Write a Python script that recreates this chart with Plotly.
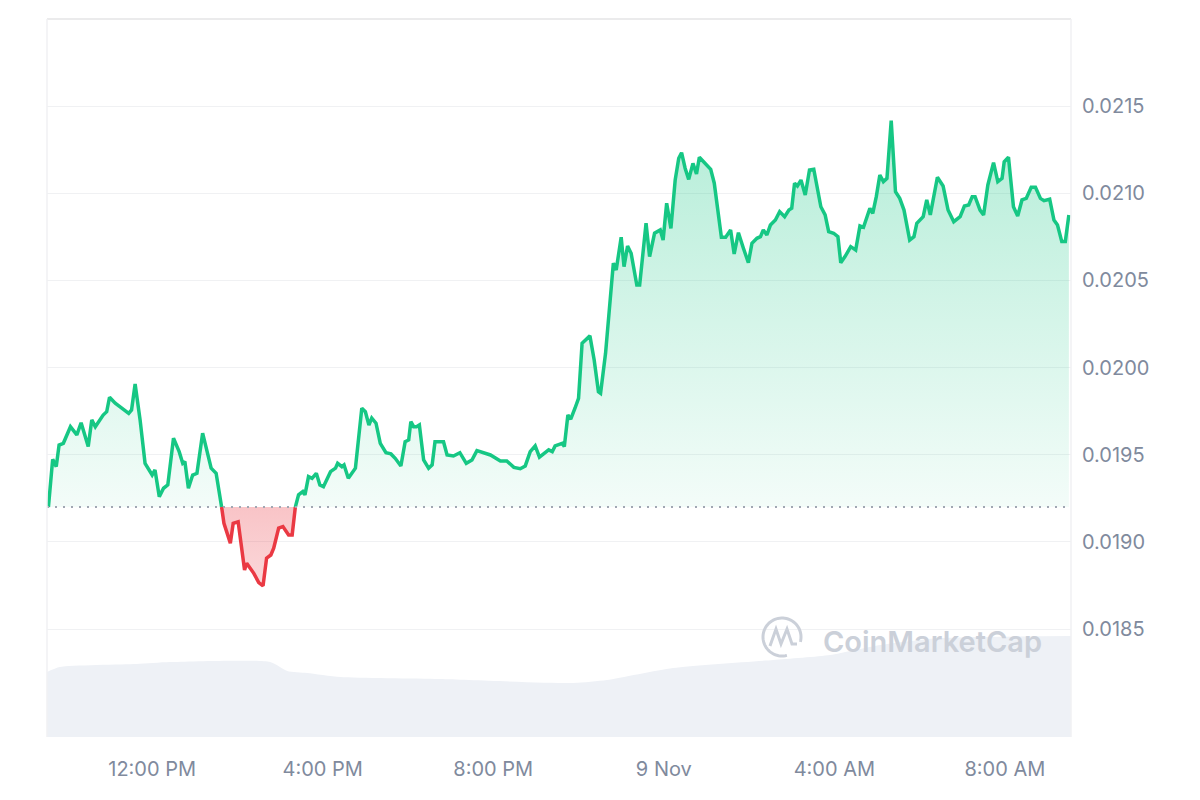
"""24h price chart with open-price baseline, CoinMarketCap style."""

import numpy as np
import pandas as pd
import plotly.graph_objects as go

# price series (USD)
times = [
    "2023-11-08 09:34", "2023-11-08 09:40", "2023-11-08 09:45", "2023-11-08 09:49", "2023-11-08 09:55",
    "2023-11-08 10:05", "2023-11-08 10:14", "2023-11-08 10:20", "2023-11-08 10:30", "2023-11-08 10:35",
    "2023-11-08 10:40", "2023-11-08 10:51", "2023-11-08 10:56", "2023-11-08 11:00", "2023-11-08 11:08",
    "2023-11-08 11:17", "2023-11-08 11:27", "2023-11-08 11:31", "2023-11-08 11:36", "2023-11-08 11:43",
    "2023-11-08 11:50", "2023-11-08 12:00", "2023-11-08 12:04", "2023-11-08 12:10", "2023-11-08 12:16",
    "2023-11-08 12:22", "2023-11-08 12:30", "2023-11-08 12:38", "2023-11-08 12:43", "2023-11-08 12:46",
    "2023-11-08 12:51", "2023-11-08 12:57", "2023-11-08 13:03", "2023-11-08 13:11", "2023-11-08 13:17",
    "2023-11-08 13:23", "2023-11-08 13:30", "2023-11-08 13:38", "2023-11-08 13:41", "2023-11-08 13:50",
    "2023-11-08 13:54", "2023-11-08 14:01", "2023-11-08 14:10", "2023-11-08 14:13", "2023-11-08 14:23",
    "2023-11-08 14:30", "2023-11-08 14:36", "2023-11-08 14:41", "2023-11-08 14:47", "2023-11-08 14:51",
    "2023-11-08 14:58", "2023-11-08 15:04", "2023-11-08 15:12", "2023-11-08 15:17", "2023-11-08 15:21",
    "2023-11-08 15:26", "2023-11-08 15:32", "2023-11-08 15:35", "2023-11-08 15:40", "2023-11-08 15:45",
    "2023-11-08 15:51", "2023-11-08 15:56", "2023-11-08 16:01", "2023-11-08 16:11", "2023-11-08 16:18",
    "2023-11-08 16:21", "2023-11-08 16:27", "2023-11-08 16:30", "2023-11-08 16:36", "2023-11-08 16:46",
    "2023-11-08 16:55", "2023-11-08 17:00", "2023-11-08 17:05", "2023-11-08 17:09", "2023-11-08 17:15",
    "2023-11-08 17:21", "2023-11-08 17:29", "2023-11-08 17:36", "2023-11-08 17:42", "2023-11-08 17:50",
    "2023-11-08 17:56", "2023-11-08 18:01", "2023-11-08 18:04", "2023-11-08 18:08", "2023-11-08 18:12",
    "2023-11-08 18:16", "2023-11-08 18:22", "2023-11-08 18:29", "2023-11-08 18:34", "2023-11-08 18:38",
    "2023-11-08 18:50", "2023-11-08 18:55", "2023-11-08 19:04", "2023-11-08 19:13", "2023-11-08 19:22",
    "2023-11-08 19:30", "2023-11-08 19:37", "2023-11-08 19:47", "2023-11-08 19:56", "2023-11-08 20:10",
    "2023-11-08 20:19", "2023-11-08 20:29", "2023-11-08 20:38", "2023-11-08 20:45", "2023-11-08 20:52",
    "2023-11-08 20:59", "2023-11-08 21:05", "2023-11-08 21:13", "2023-11-08 21:18", "2023-11-08 21:23",
    "2023-11-08 21:27", "2023-11-08 21:37", "2023-11-08 21:40", "2023-11-08 21:45", "2023-11-08 21:49",
    "2023-11-08 21:55", "2023-11-08 22:00", "2023-11-08 22:05", "2023-11-08 22:16", "2023-11-08 22:22",
    "2023-11-08 22:28", "2023-11-08 22:31", "2023-11-08 22:38", "2023-11-08 22:49", "2023-11-08 22:53",
    "2023-11-08 23:00", "2023-11-08 23:04", "2023-11-08 23:09", "2023-11-08 23:14", "2023-11-08 23:22",
    "2023-11-08 23:26", "2023-11-08 23:35", "2023-11-08 23:40", "2023-11-08 23:47", "2023-11-08 23:55",
    "2023-11-08 23:59", "2023-11-09 00:04", "2023-11-09 00:10", "2023-11-09 00:16", "2023-11-09 00:21",
    "2023-11-09 00:25", "2023-11-09 00:30", "2023-11-09 00:35", "2023-11-09 00:41", "2023-11-09 00:46",
    "2023-11-09 00:50", "2023-11-09 00:56", "2023-11-09 01:03", "2023-11-09 01:06", "2023-11-09 01:11",
    "2023-11-09 01:16", "2023-11-09 01:21", "2023-11-09 01:27", "2023-11-09 01:34", "2023-11-09 01:39",
    "2023-11-09 01:45", "2023-11-09 01:52", "2023-11-09 01:59", "2023-11-09 02:04", "2023-11-09 02:11",
    "2023-11-09 02:16", "2023-11-09 02:20", "2023-11-09 02:25", "2023-11-09 02:30", "2023-11-09 02:37",
    "2023-11-09 02:43", "2023-11-09 02:50", "2023-11-09 02:56", "2023-11-09 03:00", "2023-11-09 03:04",
    "2023-11-09 03:08", "2023-11-09 03:13", "2023-11-09 03:19", "2023-11-09 03:25", "2023-11-09 03:31",
    "2023-11-09 03:36", "2023-11-09 03:41", "2023-11-09 03:47", "2023-11-09 03:52", "2023-11-09 03:59",
    "2023-11-09 04:05", "2023-11-09 04:09", "2023-11-09 04:15", "2023-11-09 04:23", "2023-11-09 04:30",
    "2023-11-09 04:36", "2023-11-09 04:41", "2023-11-09 04:50", "2023-11-09 04:54", "2023-11-09 04:59",
    "2023-11-09 05:04", "2023-11-09 05:09", "2023-11-09 05:14", "2023-11-09 05:20", "2023-11-09 05:26",
    "2023-11-09 05:32", "2023-11-09 05:38", "2023-11-09 05:46", "2023-11-09 05:52", "2023-11-09 05:56",
    "2023-11-09 06:05", "2023-11-09 06:10", "2023-11-09 06:15", "2023-11-09 06:25", "2023-11-09 06:33",
    "2023-11-09 06:40", "2023-11-09 06:48", "2023-11-09 06:57", "2023-11-09 07:03", "2023-11-09 07:09",
    "2023-11-09 07:14", "2023-11-09 07:18", "2023-11-09 07:25", "2023-11-09 07:30", "2023-11-09 07:36",
    "2023-11-09 07:44", "2023-11-09 07:50", "2023-11-09 07:56", "2023-11-09 07:59", "2023-11-09 08:05",
    "2023-11-09 08:12", "2023-11-09 08:18", "2023-11-09 08:24", "2023-11-09 08:30", "2023-11-09 08:37",
    "2023-11-09 08:43", "2023-11-09 08:50", "2023-11-09 08:55", "2023-11-09 09:03", "2023-11-09 09:09",
    "2023-11-09 09:14", "2023-11-09 09:20", "2023-11-09 09:25", "2023-11-09 09:30",
]
prices = [
    0.019200, 0.019474, 0.019432, 0.019556, 0.019566,
    0.019661, 0.019614, 0.019684, 0.019547, 0.019700,
    0.019661, 0.019728, 0.019747, 0.019830, 0.019796,
    0.019767, 0.019738, 0.019757, 0.019906, 0.019700,
    0.019451, 0.019384, 0.019413, 0.019260, 0.019308,
    0.019327, 0.019595, 0.019518, 0.019451, 0.019461,
    0.019308, 0.019384, 0.019394, 0.019624, 0.019528,
    0.019423, 0.019394, 0.019193, 0.019107, 0.018993,
    0.019107, 0.019116, 0.018839, 0.018878, 0.018820,
    0.018767, 0.018748, 0.018907, 0.018925, 0.018964,
    0.019079, 0.019088, 0.019040, 0.019040, 0.019193,
    0.019270, 0.019289, 0.019270, 0.019375, 0.019365,
    0.019394, 0.019327, 0.019317, 0.019403, 0.019423,
    0.019451, 0.019432, 0.019442, 0.019365, 0.019423,
    0.019767, 0.019747, 0.019671, 0.019710, 0.019681,
    0.019566, 0.019512, 0.019505, 0.019480, 0.019436,
    0.019575, 0.019585, 0.019690, 0.019661, 0.019661,
    0.019671, 0.019470, 0.019423, 0.019442, 0.019575,
    0.019575, 0.019499, 0.019493, 0.019512, 0.019451,
    0.019470, 0.019524, 0.019512, 0.019499, 0.019465,
    0.019465, 0.019428, 0.019420, 0.019436, 0.019518,
    0.019551, 0.019486, 0.019512, 0.019528, 0.019518,
    0.019551, 0.019566, 0.019547, 0.019728, 0.019704,
    0.019767, 0.019824, 0.020140, 0.020182, 0.020044,
    0.019862, 0.019853, 0.020082, 0.020599, 0.020560,
    0.020748, 0.020579, 0.020698, 0.020656, 0.020474,
    0.020474, 0.020828, 0.020637, 0.020771, 0.020790,
    0.020732, 0.020943, 0.020799, 0.021076, 0.021201,
    0.021233, 0.021144, 0.021080, 0.021172, 0.021111,
    0.021207, 0.021181, 0.021144, 0.021138, 0.021058,
    0.020904, 0.020748, 0.020748, 0.020790, 0.020652,
    0.020774, 0.020685, 0.020602, 0.020713, 0.020742,
    0.020751, 0.020790, 0.020761, 0.020818, 0.020847,
    0.020895, 0.020866, 0.020904, 0.020914, 0.021058,
    0.021042, 0.021076, 0.020990, 0.021134, 0.021138,
    0.021038, 0.020923, 0.020876, 0.020780, 0.020771,
    0.020751, 0.020602, 0.020637, 0.020694, 0.020675,
    0.020813, 0.020805, 0.020914, 0.020885, 0.020981,
    0.021105, 0.021067, 0.021086, 0.021417, 0.021009,
    0.020971, 0.020904, 0.020732, 0.020751, 0.020828,
    0.020866, 0.020962, 0.020876, 0.021092, 0.021042,
    0.020904, 0.020837, 0.020866, 0.020927, 0.020933,
    0.020981, 0.020981, 0.020904, 0.020876, 0.021048,
    0.021176, 0.021067, 0.021086, 0.021181, 0.021207,
    0.020923, 0.020870, 0.020962, 0.020971, 0.021035,
    0.021035, 0.020971, 0.020958, 0.020966, 0.020847,
    0.020818, 0.020723, 0.020723, 0.020876,
]
open_price = 0.01920

# trading volume (millions USD, arbitrary scale) for the grey band at the bottom
vol_times = [
    "2023-11-08 09:32", "2023-11-08 09:50", "2023-11-08 11:38", "2023-11-08 12:25",
    "2023-11-08 14:46", "2023-11-08 15:10", "2023-11-08 15:38", "2023-11-08 16:25",
    "2023-11-08 18:45", "2023-11-08 21:53", "2023-11-08 22:40", "2023-11-09 00:13",
    "2023-11-09 02:34", "2023-11-09 03:54", "2023-11-09 05:05", "2023-11-09 06:29",
    "2023-11-09 09:33",
]
volumes = [65, 70, 73, 75, 75, 66, 64, 60, 58, 54, 57, 69, 77, 82, 92, 99, 101]

x_tick_times = [
    "2023-11-08 12:00", "2023-11-08 16:00", "2023-11-08 20:00",
    "2023-11-09 00:00", "2023-11-09 04:00", "2023-11-09 08:00",
]
x_tick_labels = ["12:00 PM", "4:00 PM", "8:00 PM", "9 Nov", "4:00 AM", "8:00 AM"]
y_ticks = [0.0185, 0.0190, 0.0195, 0.0200, 0.0205, 0.0210, 0.0215]

GREEN = "#16c784"
RED = "#ea3943"
LABEL = "#808a9d"
FONT = "Inter"

# split the series at the open price so the line and fill change colour there
tn = pd.to_datetime(times).astype("int64").to_numpy()
p = np.array(prices)
xs, ys = [tn[0]], [p[0]]
for i in range(1, len(p)):
    a, b = p[i - 1] - open_price, p[i] - open_price
    if a * b < 0:
        f = a / (a - b)
        xs.append(int(tn[i - 1] + f * (tn[i] - tn[i - 1])))
        ys.append(open_price)
    xs.append(tn[i])
    ys.append(p[i])
x_all = pd.to_datetime(np.array(xs, dtype="int64"))
y_all = np.array(ys)
upper = np.maximum(y_all, open_price)
lower = np.minimum(y_all, open_price)
up_line = np.where(y_all >= open_price, y_all, np.nan)
dn_line = np.where(y_all <= open_price, y_all, np.nan)
base = np.full(len(y_all), open_price)

fig = go.Figure()

# volume band on a hidden secondary axis
fig.add_trace(go.Scatter(
    x=pd.to_datetime(vol_times), y=volumes, yaxis="y2", mode="lines",
    line=dict(width=0, shape="spline", smoothing=0.6), fill="tozeroy",
    fillcolor="#eef1f6", hoverinfo="skip", showlegend=False,
))

# green fill above the open price
fig.add_trace(go.Scatter(x=x_all, y=base, mode="lines", line=dict(width=0),
                         hoverinfo="skip", showlegend=False))
fig.add_trace(go.Scatter(
    x=x_all, y=upper, mode="lines", line=dict(width=0), fill="tonexty",
    fillgradient=dict(type="vertical", start=open_price, stop=float(p.max()),
                      colorscale=[[0, "rgba(22,199,132,0.05)"], [1, "rgba(22,199,132,0.32)"]]),
    hoverinfo="skip", showlegend=False,
))
# red fill below the open price
fig.add_trace(go.Scatter(x=x_all, y=base, mode="lines", line=dict(width=0),
                         hoverinfo="skip", showlegend=False))
fig.add_trace(go.Scatter(
    x=x_all, y=lower, mode="lines", line=dict(width=0), fill="tonexty",
    fillgradient=dict(type="vertical", start=float(p.min()), stop=open_price,
                      colorscale=[[0, "rgba(234,57,67,0.2)"], [1, "rgba(234,57,67,0.3)"]]),
    hoverinfo="skip", showlegend=False,
))

fig.add_trace(go.Scatter(x=x_all, y=up_line, mode="lines", line=dict(color=GREEN, width=3.5),
                         connectgaps=False, showlegend=False))
fig.add_trace(go.Scatter(x=x_all, y=dn_line, mode="lines", line=dict(color=RED, width=3.5),
                         connectgaps=False, showlegend=False))

# dotted open-price line
fig.add_shape(type="line", xref="paper", x0=0, x1=1, yref="y", y0=open_price, y1=open_price,
              line=dict(color="#a1a7b3", width=2, dash="2px,6px"), layer="above")
# plot frame
fig.add_shape(type="line", xref="paper", yref="paper", x0=0, x1=1, y0=1, y1=1,
              line=dict(color="#e4e4e6", width=1.5))
for xp in (0, 1):
    fig.add_shape(type="line", xref="paper", yref="paper", x0=xp, x1=xp, y0=0, y1=1,
                  line=dict(color="#f1f1f3", width=1.5))

# CoinMarketCap watermark (positions in page pixels, converted to paper units)
PW, PH, ML, MB = 1024, 718, 47, 737


def to_paper(px, py):
    return (px - ML) / PW, (MB - py) / PH


cx, cy, r = 782, 637, 19
ang = np.radians(np.linspace(75, 375, 60))
ring = [to_paper(cx + r * np.cos(t), cy + r * np.sin(t)) for t in ang]
ring_path = "M " + " L ".join(f"{a:.5f},{b:.5f}" for a, b in ring)
m_pts = [(770, 646), (776, 629), (781, 644), (787, 629), (792, 644), (797, 644)]
m_path = "M " + " L ".join(f"{a:.5f},{b:.5f}" for a, b in (to_paper(*q) for q in m_pts))
for path in (ring_path, m_path):
    fig.add_shape(type="path", xref="paper", yref="paper", path=path,
                  line=dict(color="#cbd0d9", width=3), layer="above")
fig.add_annotation(
    text="CoinMarketCap", xref="paper", yref="paper",
    x=to_paper(821, 0)[0], y=to_paper(0, 641)[1], xanchor="left", yanchor="middle",
    showarrow=False, font=dict(family=FONT, size=29, color="#cbd0d9", weight=600),
)

# the page body adds an 8px offset, so margins are trimmed by that amount
fig.update_layout(
    width=1200, height=800,
    margin=dict(l=39, r=137, t=11, b=71),
    paper_bgcolor="white", plot_bgcolor="white",
    font=dict(family=FONT, size=20, color=LABEL),
    showlegend=False,
    xaxis=dict(
        type="date", range=["2023-11-08 09:32", "2023-11-09 09:33"],
        tickvals=x_tick_times, ticktext=x_tick_labels,
        showgrid=False, zeroline=False, showline=False, ticks="",
        ticklabelstandoff=18,
    ),
    yaxis=dict(
        side="right", range=[0.017881, 0.0220],
        tickvals=y_ticks, tickformat=".4f",
        showgrid=True, gridcolor="#f0f1f3", gridwidth=1,
        zeroline=False, showline=False, ticks="", ticklabelstandoff=10,
    ),
    yaxis2=dict(overlaying="y", range=[0, 718], visible=False),
)

fig.write_html("out.html")
